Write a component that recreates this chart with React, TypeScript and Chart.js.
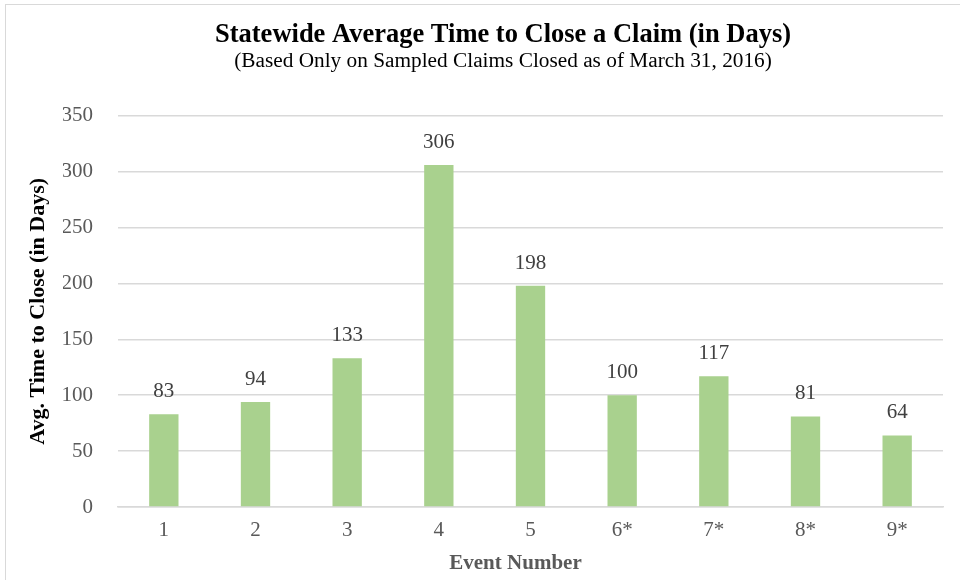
import React, { useEffect, useRef } from "react";
import { Chart, registerables } from "chart.js";

Chart.register(...registerables);

const categories = ["1", "2", "3", "4", "5", "6*", "7*", "8*", "9*"];
const avgDays = [83, 94, 133, 306, 198, 100, 117, 81, 64];
const yTicks = [0, 50, 100, 150, 200, 250, 300, 350];

const titleText = "Statewide Average Time to Close a Claim (in Days)";
const subtitleText = "(Based Only on Sampled Claims Closed as of March 31, 2016)";
const yTitle = "Avg. Time to Close (in Days)";
const xTitle = "Event Number";

const FONT = "'Liberation Serif', 'Times New Roman', serif";

const barLabels = {
  id: "barLabels",
  afterDatasetsDraw(chart: any) {
    const ctx = chart.ctx;
    const meta = chart.getDatasetMeta(0);
    ctx.save();
    ctx.font = `21px ${FONT}`;
    ctx.fillStyle = "#404040";
    ctx.textAlign = "center";
    ctx.textBaseline = "bottom";
    meta.data.forEach((bar: any, i: number) => {
      ctx.fillText(String(chart.data.datasets[0].data[i]), bar.x, bar.y - 12);
    });
    ctx.restore();
  },
};

const xAxisTitle = {
  id: "xAxisTitle",
  afterDraw(chart: any) {
    const ctx = chart.ctx;
    const area = chart.chartArea;
    ctx.save();
    ctx.font = `bold 21px ${FONT}`;
    ctx.fillStyle = "#595959";
    ctx.textAlign = "center";
    ctx.textBaseline = "middle";
    ctx.fillText(xTitle, (area.left + area.right) / 2 - 15, 564);
    ctx.restore();
  },
};

export default function App() {
  const ref = useRef<HTMLCanvasElement | null>(null);

  useEffect(() => {
    if (!ref.current) return;
    const chart = new Chart(ref.current, {
      type: "bar",
      data: {
        labels: categories,
        datasets: [
          {
            data: avgDays,
            backgroundColor: "#A9D18E",
            barPercentage: 0.32,
            categoryPercentage: 1,
          },
        ],
      },
      options: {
        animation: false,
        responsive: false,
        maintainAspectRatio: false,
        layout: { padding: { left: 63, right: 17, top: 0, bottom: 0 } },
        plugins: {
          legend: { display: false },
          tooltip: { enabled: false },
          title: {
            display: true,
            text: titleText,
            color: "#000000",
            font: { family: FONT, size: 26.5, weight: "bold", lineHeight: 1 },
            padding: { top: 22, bottom: 2.5 },
          },
          subtitle: {
            display: true,
            text: subtitleText,
            color: "#000000",
            font: { family: FONT, size: 21.3, lineHeight: 1 },
            padding: { top: 0, bottom: 43.5 },
          },
        },
        scales: {
          y: {
            min: 0,
            max: 350,
            afterBuildTicks: (scale: any) => {
              scale.ticks = yTicks.map((v) => ({ value: v }));
            },
            afterFit: (scale: any) => {
              scale.width = 55;
            },
            border: { display: false },
            grid: { color: "#D9D9D9", lineWidth: 1.5, drawTicks: false },
            ticks: {
              color: "#595959",
              font: { family: FONT, size: 21 },
              padding: 25,
            },
            title: {
              display: true,
              text: yTitle,
              color: "#000000",
              font: { family: FONT, size: 22, weight: "bold" },
              padding: { top: -38, bottom: 0 },
            },
          },
          x: {
            afterFit: (scale: any) => {
              scale.height = 73;
            },
            border: { display: true, color: "#D9D9D9", width: 1.5 },
            grid: { display: false, drawTicks: false },
            ticks: {
              color: "#595959",
              font: { family: FONT, size: 21 },
              padding: 11,
            },
            title: { display: false, text: xTitle },
          },
        },
      },
      plugins: [barLabels, xAxisTitle],
    });
    return () => chart.destroy();
  }, []);

  return (
    <div style={{ position: "absolute", left: 0, top: 0, width: 960, height: 580, background: "#fff", overflow: "hidden" }}>
      <div
        style={{
          position: "absolute",
          left: 5,
          top: 4,
          width: 1000,
          height: 1000,
          border: "1.5px solid #D9D9D9",
        }}
      />
      <canvas ref={ref} width={960} height={580} style={{ position: "absolute", left: 0, top: 0 }} />
    </div>
  );
}
